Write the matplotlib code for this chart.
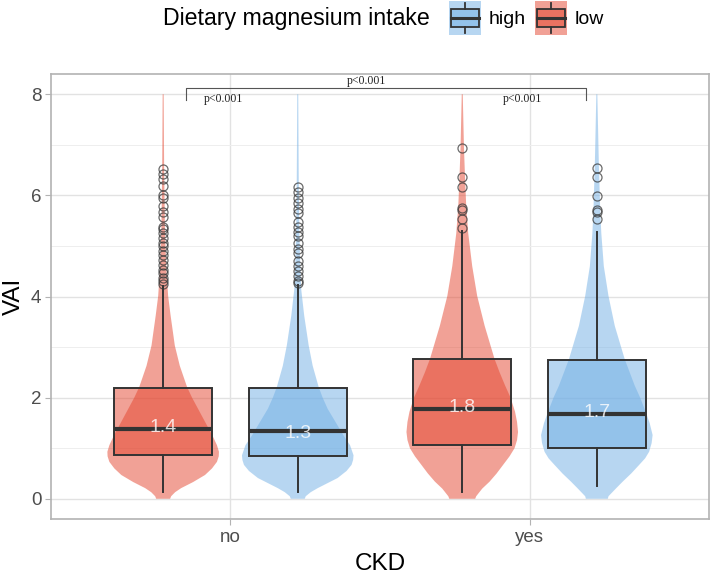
import matplotlib
matplotlib.use("Agg")
import matplotlib.pyplot as plt
from matplotlib.patches import Patch, Rectangle
from matplotlib.lines import Line2D
from matplotlib.legend_handler import HandlerBase
from matplotlib.colors import to_rgba

plt.rcParams["font.family"] = ["Liberation Sans", "DejaVu Sans"]

# groups, in drawing order: (CKD, intake)
ckd_levels = ["no", "yes"]
intake_levels = ["low", "high"]
group_ckd = ["no", "no", "yes", "yes"]
group_intake = ["low", "high", "low", "high"]

# box statistics
q1 = [0.86, 0.845, 1.055, 1.01]
median = [1.375, 1.34, 1.78, 1.68]
q3 = [2.19, 2.19, 2.76, 2.745]
whisker_lo = [0.125, 0.125, 0.125, 0.255]
whisker_hi = [4.2, 4.22, 5.3, 5.28]
median_labels = ["1.4", "1.3", "1.8", "1.7"]

outliers_no_low = [6.53, 6.43, 6.33, 6.18, 6.0, 5.94, 5.79, 5.68, 5.58, 5.38, 5.33,
                   5.25, 5.15, 5.06, 4.99, 4.89, 4.83, 4.73, 4.63, 4.53, 4.47,
                   4.37, 4.30, 4.24]
outliers_no_high = [6.16, 6.07, 5.94, 5.84, 5.74, 5.65, 5.48, 5.38, 5.28, 5.19,
                    5.06, 4.93, 4.86, 4.70, 4.60, 4.50, 4.40, 4.30, 4.26]
outliers_yes_low = [6.93, 6.37, 6.17, 5.76, 5.72, 5.53, 5.36]
outliers_yes_high = [6.54, 6.37, 5.99, 5.72, 5.68, 5.53]

# violin outlines: VAI value and relative density (half width)
violin_y_no_low = [0.0, 0.05, 0.13, 0.21, 0.33, 0.47, 0.6, 0.73, 0.84, 0.93, 1.06,
                   1.25, 1.45, 1.78, 2.0, 2.21, 2.63, 3.03, 3.62, 4.01, 4.6, 5.3,
                   6.5, 8.0]
violin_d_no_low = [7, 8, 12, 18, 30, 42, 49, 54, 55.8, 56, 54, 49.5, 44, 35, 29,
                   24, 16.7, 11.7, 7.5, 5, 3, 1.8, 1.0, 0.5]
violin_y_no_high = [0.0, 0.05, 0.13, 0.21, 0.31, 0.41, 0.55, 0.67, 0.77, 0.86, 1.06,
                    1.25, 1.45, 1.78, 2.0, 2.21, 2.63, 3.03, 3.62, 4.14, 4.6, 5.3,
                    6.3, 8.0]
violin_d_no_high = [7, 8, 13, 20, 30, 40, 49, 54, 55.6, 56, 52.5, 46, 40, 30, 25,
                    21, 15, 11, 6.5, 3.5, 2.5, 1.6, 1.0, 0.5]
violin_y_yes_low = [0.0, 0.05, 0.2, 0.34, 0.5, 0.67, 0.84, 1.0, 1.16, 1.32, 1.52,
                    1.72, 2.0, 2.24, 2.5, 2.76, 3.42, 4.01, 4.6, 5.25, 5.78, 6.4,
                    6.96, 8.0]
violin_d_yes_low = [13, 14, 20, 27.5, 34.5, 41, 47.5, 52.5, 55, 56, 55, 53, 48.5,
                    43, 37.5, 32.5, 22.5, 15, 10, 6, 4, 2.7, 1.7, 0.5]
violin_y_yes_high = [0.0, 0.05, 0.2, 0.34, 0.5, 0.67, 0.8, 0.93, 1.1, 1.26, 1.5,
                     1.72, 2.0, 2.24, 2.5, 2.76, 3.42, 4.01, 4.6, 5.25, 5.65, 6.63,
                     8.0]
violin_d_yes_high = [11, 11.7, 19, 26, 34.5, 42.5, 48.5, 52.5, 55, 56, 53, 49,
                     43.5, 38, 33, 28, 18, 11.7, 7, 4.5, 3.5, 2, 0.5]

outliers = [outliers_no_low, outliers_no_high, outliers_yes_low, outliers_yes_high]
violin_y = [violin_y_no_low, violin_y_no_high, violin_y_yes_low, violin_y_yes_high]
violin_d = [violin_d_no_low, violin_d_no_high, violin_d_yes_low, violin_d_yes_high]

# significance brackets
p_text = "p<0.001"

colors = {"low": "#E4452E", "high": "#71AFE5"}
dodge = 0.225


def group_pos(i):
    base = ckd_levels.index(group_ckd[i]) + 1
    return base - dodge if group_intake[i] == "low" else base + dodge


class BoxKeyHandler(HandlerBase):
    def create_artists(self, legend, orig_handle, xdescent, ydescent, width, height,
                       fontsize, trans):
        c = orig_handle.get_facecolor()[:3]
        x0, y0 = -xdescent, -ydescent
        bg = Rectangle((x0, y0), width, height, facecolor=to_rgba(c, 0.5),
                       edgecolor="none", transform=trans)
        box = Rectangle((x0 + 0.06 * width, y0 + 0.22 * height), 0.88 * width,
                        0.56 * height, facecolor=to_rgba(c, 0.5), edgecolor="#333333",
                        linewidth=1.3, transform=trans)
        xm = x0 + width / 2
        med = Line2D([x0 + 0.06 * width, x0 + 0.94 * width], [y0 + height / 2] * 2,
                     color="#333333", linewidth=2.2, transform=trans)
        w1 = Line2D([xm, xm], [y0 + 0.05 * height, y0 + 0.22 * height],
                    color="#333333", linewidth=1.3, transform=trans)
        w2 = Line2D([xm, xm], [y0 + 0.78 * height, y0 + 0.95 * height],
                    color="#333333", linewidth=1.3, transform=trans)
        return [bg, box, med, w1, w2]


fig = plt.figure(figsize=(7.1, 5.74), dpi=100)
ax = fig.add_axes([51 / 710, 55 / 574, 658 / 710, 445 / 574])

positions = [group_pos(i) for i in range(4)]

# violins
vpstats = []
for i in range(4):
    vpstats.append({
        "coords": violin_y[i], "vals": violin_d[i], "mean": median[i],
        "median": median[i], "min": violin_y[i][0], "max": violin_y[i][-1],
    })
parts = ax.violin(vpstats, positions=positions, widths=0.373, showextrema=False)
for i, body in enumerate(parts["bodies"]):
    body.set_facecolor(colors[group_intake[i]])
    body.set_edgecolor("none")
    body.set_alpha(0.5)
    body.set_zorder(2)

# boxes
bstats = []
for i in range(4):
    bstats.append({"med": median[i], "q1": q1[i], "q3": q3[i],
                   "whislo": whisker_lo[i], "whishi": whisker_hi[i],
                   "fliers": outliers[i]})
bp = ax.bxp(bstats, positions=positions, widths=0.327, patch_artist=True,
            showcaps=False, manage_ticks=False, zorder=3,
            boxprops=dict(edgecolor="#333333", linewidth=1.4),
            whiskerprops=dict(color="#333333", linewidth=1.4),
            medianprops=dict(color="#333333", linewidth=3.0),
            flierprops=dict(marker="o", markerfacecolor="none",
                            markeredgecolor="#3a3a3a", markersize=6.5,
                            markeredgewidth=0.9, alpha=0.75))
for i, b in enumerate(bp["boxes"]):
    b.set_facecolor(to_rgba(colors[group_intake[i]], 0.5))

for i in range(4):
    ax.text(positions[i], float(median_labels[i]), median_labels[i], ha="center",
            va="center", fontsize=14, color="white", alpha=0.8, zorder=5)

# significance annotations
bk = "#555555"
ax.plot([0.853, 0.853, 2.189, 2.189], [7.89, 8.13, 8.13, 7.89], color=bk,
        linewidth=0.8, zorder=4)
ax.text(1.456, 8.27, p_text, ha="center", va="center", fontsize=8.5,
        family="Liberation Serif", color="#222222")
for xc in [0.977, 1.976]:
    ax.text(xc, 7.91, p_text, ha="center", va="center", fontsize=8.5,
            family="Liberation Serif", color="#222222")

# axes styling (theme_light look)
ax.set_xlim(0.4, 2.6)
ax.set_ylim(-0.4, 8.4)
ax.set_xticks([1, 2])
ax.set_xticklabels(ckd_levels)
ax.set_yticks([0, 2, 4, 6, 8])
ax.set_yticks([1, 3, 5, 7], minor=True)
ax.grid(True, which="major", color="#E2E2E2", linewidth=1.0, zorder=0)
ax.grid(True, which="minor", axis="y", color="#EEEEEE", linewidth=0.7, zorder=0)
ax.set_axisbelow(True)
for s in ax.spines.values():
    s.set_color("#B3B3B3")
    s.set_linewidth(1.2)
ax.tick_params(which="major", length=4, width=0.8, color="#B3B3B3",
               labelcolor="#4D4D4D", labelsize=13.5, pad=3)
ax.tick_params(which="minor", length=0)
ax.set_xlabel("CKD", fontsize=17.5, labelpad=5)
ax.set_ylabel("VAI", fontsize=17.5, labelpad=4)

# legend
fig.text(163 / 710, 1 - 19 / 574, "Dietary magnesium intake", fontsize=16.7,
         ha="left", va="center")
handles = [Patch(facecolor=colors["high"]), Patch(facecolor=colors["low"])]
fig.legend(handles, ["high", "low"], loc="center left",
           bbox_to_anchor=(449 / 710, 1 - 18 / 574), ncol=2, frameon=False,
           fontsize=14, handlelength=1.65, handleheight=2.3, handletextpad=0.4,
           columnspacing=0.45, borderpad=0, borderaxespad=0,
           handler_map={Patch: BoxKeyHandler()})

fig.savefig("out.png", dpi=100)
